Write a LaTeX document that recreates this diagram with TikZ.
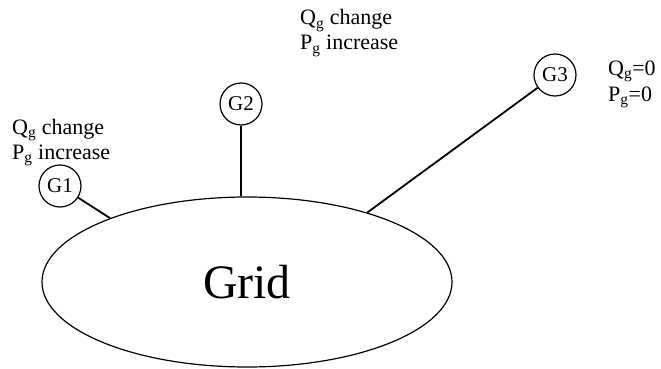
\documentclass[tikz,border=0pt]{standalone}
\usepackage{fontspec}
\setmainfont{Liberation Serif}
\usetikzlibrary{shapes.geometric}
\begin{document}
\begin{tikzpicture}[x=1pt,y=-1pt,
  gen/.style={circle,draw,line width=1.2pt,minimum size=42pt,inner sep=0pt,font=\fontsize{21}{24}\selectfont},
  gridnode/.style={ellipse,draw,line width=1.2pt,minimum width=410pt,minimum height=170pt,inner sep=0pt,font=\fontsize{48}{50}\selectfont},
  conn/.style={line width=1.8pt},
  lbl/.style={anchor=base west,inner sep=0pt,font=\fontsize{22}{25}\selectfont}]
\useasboundingbox (0,0) rectangle (661,369);
\node[gridnode] (grid) at (247,282) {Grid};
\node[gen] (g1) at (60,186) {G1};
\node[gen] (g2) at (241,104) {G2};
\node[gen] (g3) at (555,75) {G3};
\draw[conn] (g1) -- (grid.155);
\draw[conn] (g2.south) -- (g2.south |- grid.north);
\draw[conn] (g3) -- (grid.30);
\node[lbl] (l1a) at (12,134) {Q$_{\mathrm{g}}$ change};
\node[lbl] (l1b) at (12,159) {P$_{\mathrm{g}}$ increase};
\node[lbl] (l2a) at (300,25) {Q$_{\mathrm{g}}$ change};
\node[lbl] (l2b) at (300,50) {P$_{\mathrm{g}}$ increase};
\node[lbl] (l3a) at (608,75) {Q$_{\mathrm{g}}$=0};
\node[lbl] (l3b) at (608,101) {P$_{\mathrm{g}}$=0};
\end{tikzpicture}
\end{document}
